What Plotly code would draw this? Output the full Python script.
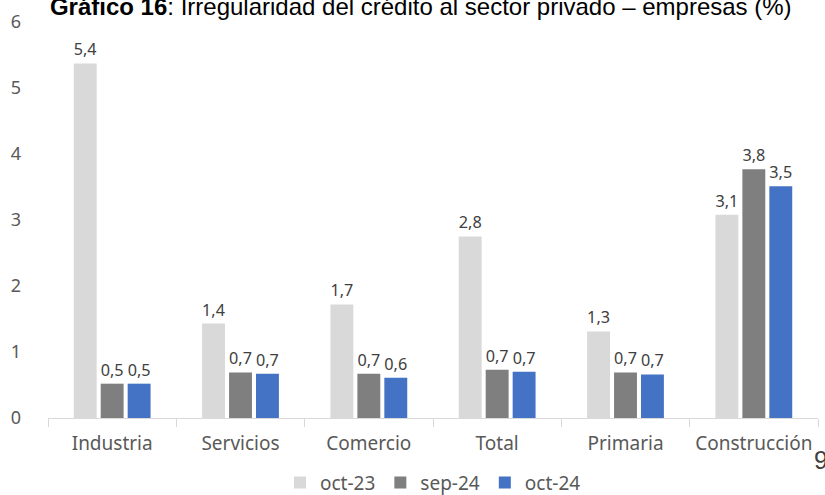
import plotly.graph_objects as go

categorias = ["Industria", "Servicios", "Comercio", "Total", "Primaria", "Construcción"]
oct_23 = [5.37, 1.43, 1.72, 2.75, 1.31, 3.08]
sep_24 = [0.52, 0.69, 0.67, 0.73, 0.69, 3.77]
oct_24 = [0.52, 0.67, 0.61, 0.70, 0.66, 3.51]
y_ticks = [0, 1, 2, 3, 4, 5, 6]


def etiquetas(valores):
    return [f"{v:.1f}".replace(".", ",") for v in valores]


fig = go.Figure()
series = [
    ("oct-23", oct_23, "#d9d9d9"),
    ("sep-24", sep_24, "#7f7f7f"),
    ("oct-24", oct_24, "#4472c4"),
]
for nombre, valores, color in series:
    fig.add_trace(go.Bar(
        x=categorias,
        y=valores,
        name=nombre,
        marker=dict(color=color, line=dict(width=0)),
        text=etiquetas(valores),
        textposition="outside",
        textfont=dict(family="Noto Sans", size=19, color="#404040"),
        cliponaxis=False,
    ))

fig.update_layout(
    width=825,
    height=495,
    margin=dict(l=48, r=7, t=22, b=77, autoexpand=False),
    paper_bgcolor="white",
    plot_bgcolor="white",
    barmode="group",
    bargap=0.37,
    bargroupgap=0.15,
    font=dict(family="Noto Sans", color="#595959"),
    title=dict(
        text="<b>Gráfico 16</b>: Irregularidad del crédito al sector privado – empresas (%)",
        font=dict(family="Liberation Sans", size=24, color="#000000"),
        x=0.51, xanchor="center",
        y=0.986, yanchor="middle",
    ),
    xaxis=dict(
        showline=True, linecolor="#d9d9d9", linewidth=1,
        ticks="outside", tickson="boundaries", ticklen=8, tickcolor="#d9d9d9",
        tickfont=dict(size=19, color="#595959"),
        ticklabelstandoff=8,
        showgrid=False,
    ),
    yaxis=dict(
        range=[0, 6],
        tickvals=y_ticks,
        showgrid=False, zeroline=False, showline=False,
        tickfont=dict(size=18, color="#595959"),
        ticklabelstandoff=26,
    ),
    legend=dict(
        orientation="h", x=0.5, xanchor="center", y=-0.163, yanchor="middle",
        font=dict(size=19, color="#595959"),
        itemwidth=30, traceorder="normal",
    ),
    annotations=[dict(
        text="9", xref="paper", yref="paper", x=1.0, y=-0.106,
        xanchor="left", yanchor="middle", showarrow=False, xshift=-6,
        font=dict(family="Liberation Sans", size=25, color="#404040"),
    )],
)

fig.write_html(
    "out.html",
    config={"displayModeBar": False},
    post_script="document.body.style.margin = '0';",
)
